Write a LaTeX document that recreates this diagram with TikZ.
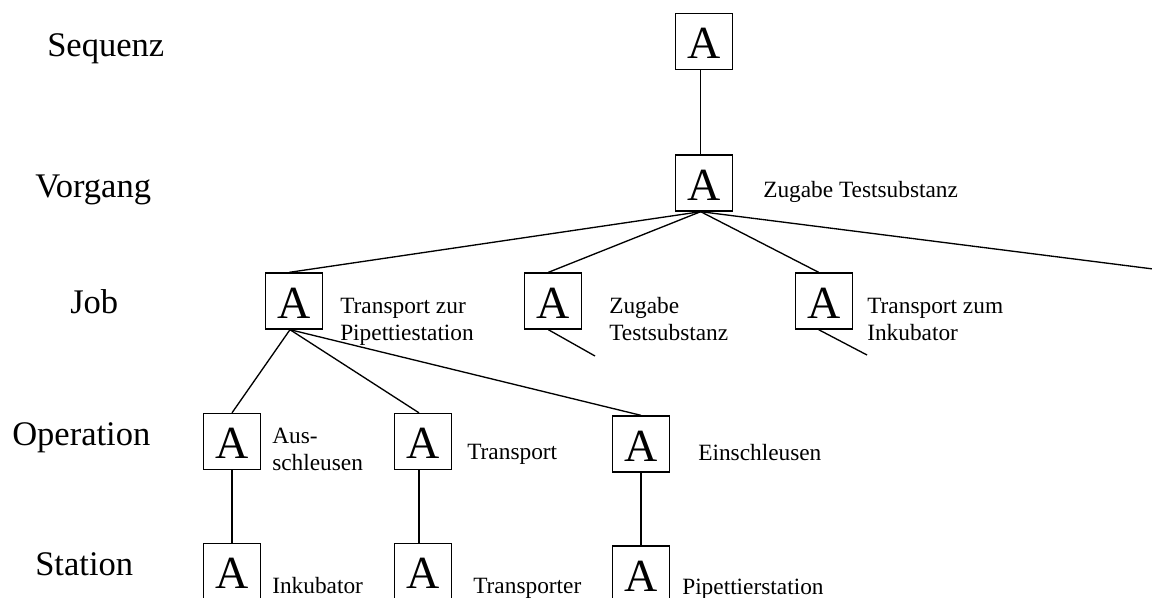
\documentclass[tikz,border=0pt]{standalone}
\usepackage{fontspec}
\setmainfont{Liberation Serif}
\begin{document}
\begin{tikzpicture}[x=0.75pt,y=-0.75pt,
  abox/.style={draw,line width=1pt,minimum width=42.75pt,minimum height=42pt,inner sep=0pt,
    font=\fontsize{34.5}{40}\selectfont,text height=26pt},
  lvl/.style={anchor=base west,inner sep=0pt,font=\fontsize{25.9}{30}\selectfont},
  lab/.style={anchor=base west,inner sep=0pt,font=\fontsize{17.5}{20.25}\selectfont},
  conn/.style={line width=1pt}]
\useasboundingbox (0,0) rectangle (1152,597);
\clip (0,0) rectangle (1152,597);
\fill[white] (0,0) rectangle (1152,597);

% level names
\node[lvl] (lseq) at (47,56) {Sequenz};
\node[lvl] (lvor) at (35,197) {Vorgang};
\node[lvl] (ljob) at (70,313) {Job};
\node[lvl] (lop) at (12,445) {Operation};
\node[lvl] (lst) at (35,575) {Station};

% boxes
\node[abox] (seq) at (704,41.5) {A};
\node[abox] (vor) at (704,183) {A};
\node[abox] (job1) at (294,301) {A};
\node[abox] (job2) at (553,301) {A};
\node[abox] (job3) at (824,301) {A};
\node[abox] (op1) at (232,441.5) {A};
\node[abox] (op2) at (423,441.5) {A};
\node[abox] (op3) at (641,444) {A};
\node[abox] (st1) at (232,571.5) {A};
\node[abox] (st2) at (423,571.5) {A};
\node[abox] (st3) at (641,574) {A};

% free ends
\coordinate (j4) at (1300,287.6);
\coordinate (j2e) at (595,356);
\coordinate (j3e) at (867,355);

% labels
\node[lab] (tvor) at (763,197) {Zugabe Testsubstanz};
\node[lab] (tj1) at (340,313) {\begin{tabular}[t]{@{}l@{}}Transport zur\\Pipettiestation\end{tabular}};
\node[lab] (tj2) at (609,313) {\begin{tabular}[t]{@{}l@{}}Zugabe\\Testsubstanz\end{tabular}};
\node[lab] (tj3) at (867,313) {\begin{tabular}[t]{@{}l@{}}Transport zum\\Inkubator\end{tabular}};
\node[lab] (to1) at (272,443) {\begin{tabular}[t]{@{}l@{}}Aus-\\schleusen\end{tabular}};
\node[lab] (to2) at (467,459) {Transport};
\node[lab] (to3) at (698,460) {Einschleusen};
\node[lab] (ts1) at (272,593) {Inkubator};
\node[lab] (ts2) at (473,593) {Transporter};
\node[lab] (ts3) at (682,594) {Pipettierstation};

% connectors
\draw[conn] ([xshift=-2.5pt]seq.south) -- ([xshift=-2.5pt]vor.north);
\draw[conn] ([xshift=-2.5pt]vor.south) -- ([xshift=-3.5pt]job1.north);
\draw[conn] ([xshift=-2.5pt]vor.south) -- ([xshift=-3.5pt]job2.north);
\draw[conn] ([xshift=-2.5pt]vor.south) -- ([xshift=-4pt]job3.north);
\draw[conn] ([xshift=-2.5pt]vor.south) -- (j4);
\draw[conn] ([xshift=-3.5pt]job2.south) -- (j2e);
\draw[conn] ([xshift=-4pt]job3.south) -- (j3e);
\draw[conn] ([xshift=-3pt]job1.south) -- (op1.north);
\draw[conn] ([xshift=-3pt]job1.south) -- ([xshift=-3pt]op2.north);
\draw[conn] ([xshift=-3pt]job1.south) -- (op3.north);
\draw[conn] (op1.south) -- (st1.north);
\draw[conn] ([xshift=-3pt]op2.south) -- ([xshift=-3pt]st2.north);
\draw[conn] (op3.south) -- (st3.north);
\end{tikzpicture}
\end{document}
